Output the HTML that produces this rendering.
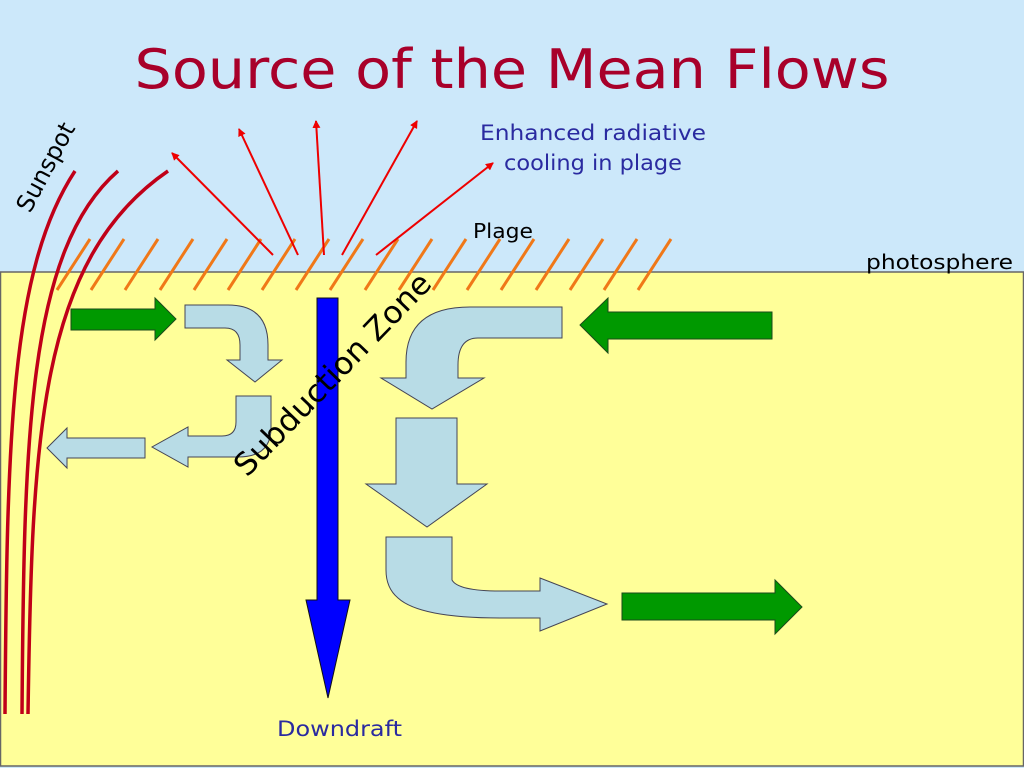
<!DOCTYPE html>
<html><head><meta charset="utf-8"><style>
html,body{margin:0;padding:0;width:1024px;height:768px;overflow:hidden;background:#cce8fa}
svg{display:block}
text{font-family:"DejaVu Sans","Liberation Sans",sans-serif}
</style></head><body>
<svg width="1024" height="768" viewBox="0 0 1024 768">
<defs>
<marker id="ah" markerWidth="8" markerHeight="8" refX="7" refY="4" orient="auto" markerUnits="userSpaceOnUse"><path d="M0,0 L8,4 L0,8 Z" fill="#ee0000"/></marker>
</defs>
<rect x="0" y="0" width="1024" height="272" fill="#cce8fa"/>
<rect x="0.5" y="272" width="1023" height="494" fill="#ffff99" stroke="#666" stroke-width="1.5"/>
<text x="512" y="88" font-size="54" fill="#a8002a" text-anchor="middle" textLength="755" lengthAdjust="spacingAndGlyphs">Source of the Mean Flows</text>

<g stroke="#f07818" stroke-width="3">
<line x1="57" y1="290" x2="90" y2="239"/><line x1="91" y1="290" x2="124" y2="239"/><line x1="125" y1="290" x2="158" y2="239"/><line x1="160" y1="290" x2="193" y2="239"/><line x1="194" y1="290" x2="227" y2="239"/><line x1="228" y1="290" x2="261" y2="239"/><line x1="262" y1="290" x2="295" y2="239"/><line x1="296" y1="290" x2="329" y2="239"/><line x1="330" y1="290" x2="363" y2="239"/><line x1="365" y1="290" x2="398" y2="239"/><line x1="399" y1="290" x2="432" y2="239"/><line x1="433" y1="290" x2="466" y2="239"/><line x1="467" y1="290" x2="500" y2="239"/><line x1="501" y1="290" x2="534" y2="239"/><line x1="536" y1="290" x2="569" y2="239"/><line x1="570" y1="290" x2="603" y2="239"/><line x1="604" y1="290" x2="637" y2="239"/><line x1="638" y1="290" x2="671" y2="239"/>
</g>

<g stroke="#ee0000" stroke-width="2" marker-end="url(#ah)">
<line x1="273" y1="255" x2="172" y2="153"/>
<line x1="298" y1="255" x2="239" y2="129"/>
<line x1="324" y1="255" x2="316" y2="121"/>
<line x1="342" y1="255" x2="417" y2="121"/>
<line x1="376" y1="255" x2="493" y2="163"/>
</g>

<g stroke="#c00018" stroke-width="3.5" fill="none">
<path d="M5,714 C7,440 10,270 75,171"/>
<path d="M22,714 C24,440 27,250 118,171"/>
<path d="M28,714 C32,440 38,260 168,171"/>
</g>
<text x="0" y="0" font-size="24" fill="#000" transform="translate(30,214) rotate(-62)">Sunspot</text>

<g fill="#009900" stroke="#1a4a1a" stroke-width="1">
<path d="M71,309 H155 V298 L176,319 L155,340 V330 H71 Z"/>
<path d="M772,312 V339 H608 V353 L580,325 L608,298 V312 Z"/>
<path d="M622,593 H775 V580 L802,607 L775,634 V620 H622 Z"/>
</g>

<g fill="#b8dce6" stroke="#445" stroke-width="1">
<path d="M185,305 H228 Q268,305 268,345 V360 H282 L255,382 L227,360 H240 V345 Q240,328 225,328 H185 Z"/>
<path d="M236,396 H271 V428 Q271,457 238,457 H188 V467 L152,447 L188,427 V436 H222 Q236,436 236,422 Z"/>
<path d="M145,438 V458 H67 V468 L47,448 L67,428 V438 Z"/>
<path d="M562,307 V338 H478 Q458,338 458,365 V378 H484 L432,409 L381,378 H406 V362 Q406,307 470,307 Z"/>
<path d="M396,418 H457 V484 H487 L427,527 L366,484 H396 Z"/>
<path d="M386,537 H452 V580 Q458,591 500,591 H540 V578 L607,604 L540,631 V618 H500 Q420,618 398,598 Q386,588 386,570 Z"/>
</g>

<path d="M317,298 H338 V600 H350 L328,698 L306,600 H317 Z" fill="#0000ff" stroke="#111" stroke-width="1"/>

<text x="0" y="0" font-size="31" fill="#000" transform="translate(247,478) rotate(-46)" textLength="268" lengthAdjust="spacingAndGlyphs">Subduction Zone</text>

<text x="593" y="140" font-size="21" fill="#2a2aa0" text-anchor="middle" textLength="226" lengthAdjust="spacingAndGlyphs">Enhanced radiative</text>
<text x="593" y="170" font-size="21" fill="#2a2aa0" text-anchor="middle" textLength="178" lengthAdjust="spacingAndGlyphs">cooling in plage</text>
<text x="473" y="238" font-size="20" fill="#000" textLength="60" lengthAdjust="spacingAndGlyphs">Plage</text>
<text x="866" y="269" font-size="20" fill="#000" textLength="147" lengthAdjust="spacingAndGlyphs">photosphere</text>
<text x="277" y="736" font-size="21" fill="#2a2aa0" textLength="125" lengthAdjust="spacingAndGlyphs">Downdraft</text>
</svg>
</body></html>
